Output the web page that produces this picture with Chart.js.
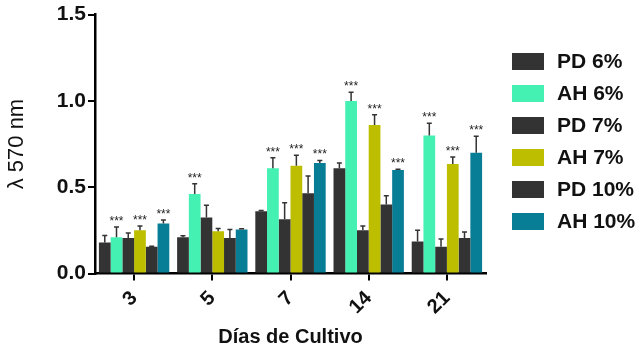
<!DOCTYPE html>
<html><head><meta charset="utf-8">
<script src="https://cdn.jsdelivr.net/npm/chart.js@4"></script>
<style>html,body{margin:0;padding:0;background:#fff}#wrap{width:640px;height:349px}</style>
</head><body><div id="wrap"><canvas id="c" width="640" height="349"></canvas></div>
<script>
const categories = ['3', '5', '7', '14', '21'];
const seriesLabels = ['PD 6%', 'AH 6%', 'PD 7%', 'AH 7%', 'PD 10%', 'AH 10%'];
const seriesColors = ['#333333', '#44F0B2', '#333333', '#BEBE00', '#333333', '#087D96'];
const pd6 = [0.18, 0.21, 0.36, 0.61, 0.185];
const ah6 = [0.21, 0.46, 0.61, 1.00, 0.80];
const pd7 = [0.205, 0.325, 0.315, 0.25, 0.155];
const ah7 = [0.25, 0.245, 0.625, 0.86, 0.635];
const pd10 = [0.155, 0.205, 0.465, 0.40, 0.205];
const ah10 = [0.29, 0.255, 0.64, 0.60, 0.70];
const pd6Err = [0.04, 0.008, 0.005, 0.03, 0.065];
const ah6Err = [0.06, 0.06, 0.06, 0.05, 0.07];
const pd7Err = [0.03, 0.07, 0.095, 0.025, 0.045];
const ah7Err = [0.025, 0.015, 0.06, 0.06, 0.04];
const pd10Err = [0.003, 0.05, 0.10, 0.05, 0.035];
const ah10Err = [0.02, 0.004, 0.015, 0.004, 0.095];
const pd6Sig = ['', '', '', '', ''];
const ah6Sig = ['***', '***', '***', '***', '***'];
const pd7Sig = ['', '', '', '', ''];
const ah7Sig = ['***', '', '***', '***', '***'];
const pd10Sig = ['', '', '', '', ''];
const ah10Sig = ['***', '', '***', '***', '***'];
const yTicks = [0, 0.5, 1.0, 1.5];

const values = [pd6, ah6, pd7, ah7, pd10, ah10];
const errs = [pd6Err, ah6Err, pd7Err, ah7Err, pd10Err, ah10Err];
const sigs = [pd6Sig, ah6Sig, pd7Sig, ah7Sig, pd10Sig, ah10Sig];

const FONT = 'Liberation Sans, Arial, sans-serif';

const errPlugin = {
  id: 'errPlugin',
  afterDatasetsDraw(chart) {
    const ctx = chart.ctx;
    const y = chart.scales.y;
    ctx.save();
    chart.data.datasets.forEach((ds, di) => {
      const meta = chart.getDatasetMeta(di);
      meta.data.forEach((bar, i) => {
        const v = ds.data[i];
        const top = y.getPixelForValue(v + errs[di][i]);
        const base = y.getPixelForValue(v);
        ctx.strokeStyle = '#333333';
        ctx.lineWidth = 1.5;
        ctx.beginPath();
        ctx.moveTo(bar.x, base);
        ctx.lineTo(bar.x, top);
        ctx.moveTo(bar.x - 2.5, top);
        ctx.lineTo(bar.x + 2.5, top);
        ctx.stroke();
        const s = sigs[di][i];
        if (s) {
          ctx.fillStyle = '#222';
          ctx.font = '12px ' + FONT;
          ctx.textAlign = 'center';
          ctx.textBaseline = 'alphabetic';
          ctx.fillText(s, bar.x, top - 2);
        }
      });
    });
    ctx.restore();
  }
};

const legendPlugin = {
  id: 'legendPlugin',
  afterDraw(chart) {
    const ctx = chart.ctx;
    ctx.save();
    chart.data.datasets.forEach((ds, i) => {
      const cy = 61.5 + i * 32;
      ctx.fillStyle = ds.backgroundColor;
      ctx.fillRect(512, cy - 8.5, 32, 17);
      ctx.fillStyle = '#111';
      ctx.font = 'bold 21px ' + FONT;
      ctx.textAlign = 'left';
      ctx.textBaseline = 'middle';
      ctx.fillText(ds.label, 557, cy + 1);
    });
    ctx.restore();
  }
};

new Chart(document.getElementById('c'), {
  type: 'bar',
  data: {
    labels: categories,
    datasets: values.map((d, i) => ({
      label: seriesLabels[i],
      data: d,
      backgroundColor: seriesColors[i],
      borderWidth: 0,
      barPercentage: 1.0,
      categoryPercentage: 0.9
    }))
  },
  options: {
    responsive: false,
    animation: false,
    layout: { padding: { left: 4, right: 154, top: 8, bottom: 0 } },
    plugins: { legend: { display: false }, tooltip: { enabled: false } },
    scales: {
      x: {
        border: { color: '#000', width: 2.5 },
        grid: { offset: false, drawOnChartArea: false, drawTicks: true, tickLength: 7, color: '#000', lineWidth: 2 },
        ticks: { color: '#111', font: { family: FONT, size: 20, weight: 'bold' }, minRotation: 45, maxRotation: 45, padding: 6 },
        title: { display: true, text: 'Días de Cultivo', color: '#111', font: { family: FONT, size: 20, weight: 'bold' }, padding: { top: 4, bottom: 0 } },
        afterFit(scale) { scale.height = 349 - 273.5; }
      },
      y: {
        min: 0, max: 1.5,
        afterBuildTicks(scale) { scale.ticks = yTicks.map(v => ({ value: v })); },
        border: { color: '#000', width: 2.5 },
        grid: { drawOnChartArea: false, drawTicks: true, tickLength: 7, color: '#000', lineWidth: 2 },
        ticks: { color: '#111', font: { family: FONT, size: 21, weight: 'bold' }, padding: 2, callback: v => Number(v).toFixed(1) },
        title: { display: true, text: 'λ 570 nm', color: '#111', font: { family: FONT, size: 22 }, padding: { top: 0, bottom: 6 } },
        afterFit(scale) { scale.width = 95 - 4; }
      }
    }
  },
  plugins: [errPlugin, legendPlugin]
});
</script></body></html>
